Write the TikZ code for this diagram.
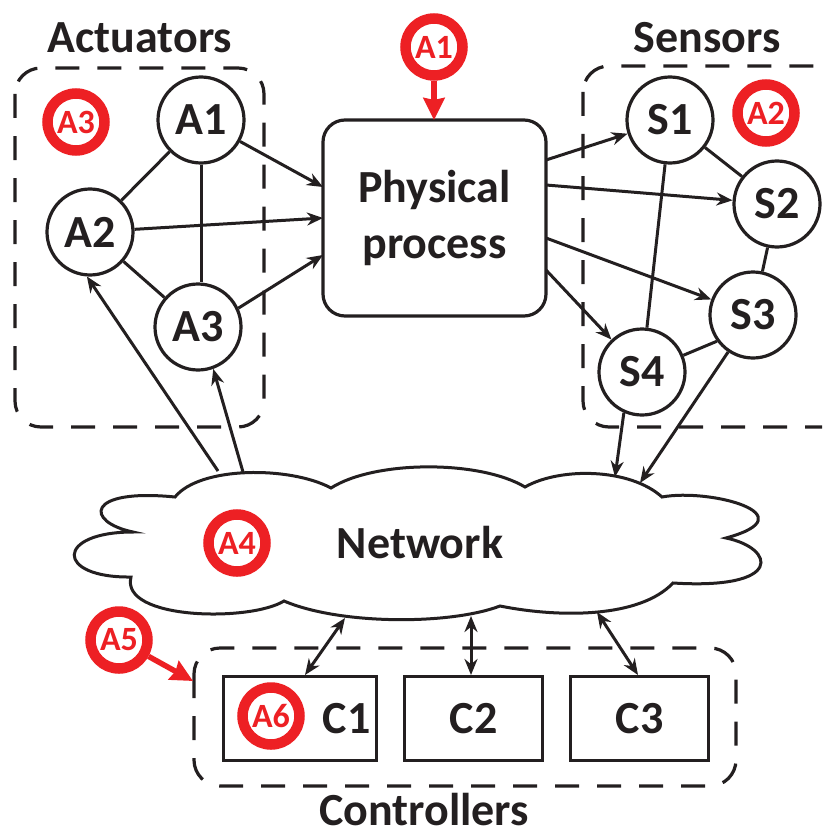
\documentclass[tikz,border=0pt]{standalone}
\usepackage{fontspec}
\setmainfont{Carlito}
\usetikzlibrary{arrows.meta}
\definecolor{ink}{HTML}{231F20}
\definecolor{alert}{HTML}{ED2024}
\tikzset{
  lab/.style={text=ink,font=\fontsize{46}{50}\selectfont\bfseries,inner sep=0pt},
  device/.style={lab,draw=ink,line width=3.2pt,fill=white,circle,minimum size=86pt},
  ctrl/.style={lab,draw=ink,line width=3.2pt,fill=white,minimum height=84pt,anchor=north west},
  group/.style={draw=ink,line width=3.2pt,dash pattern=on 24pt off 18pt,rounded corners=26pt},
  ring/.style={draw=alert,line width=10.5pt,fill=white,circle,minimum size=57pt,inner sep=0pt,text=alert,font=\fontsize{34}{36}\selectfont\bfseries},
  link/.style={draw=ink,line width=3pt},
  flow/.style={link,-{Stealth[length=16pt,width=13pt]}},
  both/.style={link,{Stealth[length=16pt,width=13pt]}-{Stealth[length=16pt,width=13pt]}},
  hit/.style={draw=alert,line width=5.5pt,-{Stealth[length=22pt,width=21pt,inset=2pt]}}
}
\begin{document}
\begin{tikzpicture}[x=1pt,y=-1pt]
\useasboundingbox (0,0) rectangle (822,832);
\draw[group] (15,68) rectangle (264,427);
\begin{scope}
\clip (0,0) rectangle (822,832);
\draw[group] (583,66) rectangle (850,427);
\end{scope}
\draw[group] (194,648) rectangle (736,786);
\node[lab,anchor=base] (actlabel) at (140,53) {Actuators};
\node[lab,anchor=base] (senlabel) at (707,53) {Sensors};
\node[lab,anchor=base] (conlabel) at (424,825) {Controllers};

\node[lab,align=center,draw=ink,line width=3.2pt,fill=white,rounded corners=22pt,minimum width=223pt,minimum height=196pt] (proc) at (434.5,218) {Physical\\[6pt]process};
\coordinate (p1) at (323,187);
\coordinate (p2) at (323,218);
\coordinate (p3) at (323,255);
\coordinate (q1) at (546,160);
\coordinate (q2) at (546,185);
\coordinate (q3) at (546,238);
\coordinate (q4) at (546,270);

\node[device] (A1) at (201,120) {A1};
\node[device] (A2) at (90,232) {A2};
\node[device] (A3) at (198,327) {A3};
\node[device] (S1) at (670,120) {S1};
\node[device] (S2) at (777,204) {S2};
\node[device] (S3) at (753,315) {S3};
\node[device] (S4) at (642,372) {S4};

\draw[link] (A1)--(A2) (A2)--(A3);
\draw[link] (A1.south)--(A1.south|-A3.north);
\draw[link] (S1)--(S2) (S1)--(S4) (S2)--(S3) (S4.22)--(S3.216);
\draw[flow] (A1)--(p1);
\draw[flow] (A2)--(p2);
\draw[flow] (A3.25)--(p3);
\draw[flow] (q1)--(S1);
\draw[flow] (q2)--(S2);
\draw[flow] (q3)--(S3);
\draw[flow] (q4)--(S4);

% cloud
\draw[draw=ink,line width=3pt,fill=white,line join=miter]
 (175,497) .. controls (200,466) and (290,466) .. (331,488)
 .. controls (375,460) and (480,460) .. (525,487)
 .. controls (560,467) and (630,468) .. (662,497)
 .. controls (710,488) and (810,515) .. (726,538)
 .. controls (775,548) and (785,590) .. (673,583)
 .. controls (640,618) and (560,618) .. (500,606)
 .. controls (450,625) and (340,625) .. (284,601)
 .. controls (250,622) and (120,620) .. (131,577)
 .. controls (55,578) and (55,532) .. (133,532)
 .. controls (85,522) and (85,488) .. (175,497) -- cycle;
\node[lab] (net) at (420,543) {Network};
\coordinate (n1) at (218,471);
\coordinate (n2) at (243,472);
\coordinate (n3) at (615,477);
\coordinate (n4) at (640,483);
\coordinate (n5) at (345,618);
\coordinate (n6) at (471,616);
\coordinate (n7) at (597,612);
\draw[flow] (n1)--(A2.-94);
\draw[flow] (n2)--(A3.-70);
\draw[flow] (S4.-114)--(n3);
\draw[flow] (S3)--(n4);

\node[ctrl,minimum width=153pt] (C1) at (222,675) {\hspace*{93pt}C1};
\node[ctrl,minimum width=138pt] (C2) at (403,675) {C2};
\node[ctrl,minimum width=138pt] (C3) at (569,675) {C3};
\coordinate (c1t) at (305,675);
\coordinate (c2t) at (471,675);
\coordinate (c3t) at (638,675);
\draw[both] (c1t)--(n5);
\draw[both] (c2t)--(n6);
\draw[both] (c3t)--(n7);

\node[ring] (R1) at (434,47) {A1};
\node[ring] (R2) at (766,113) {A2};
\node[ring] (R3) at (76,122) {A3};
\node[ring] (R4) at (237,543) {A4};
\node[ring] (R5) at (119,640) {A5};
\node[ring] (R6) at (271,716) {A6};
\coordinate (h1) at (434,120);
\coordinate (h5) at (193,681);
\draw[hit] (R1)--(h1);
\draw[hit] (R5)--(h5);
\end{tikzpicture}
\end{document}
